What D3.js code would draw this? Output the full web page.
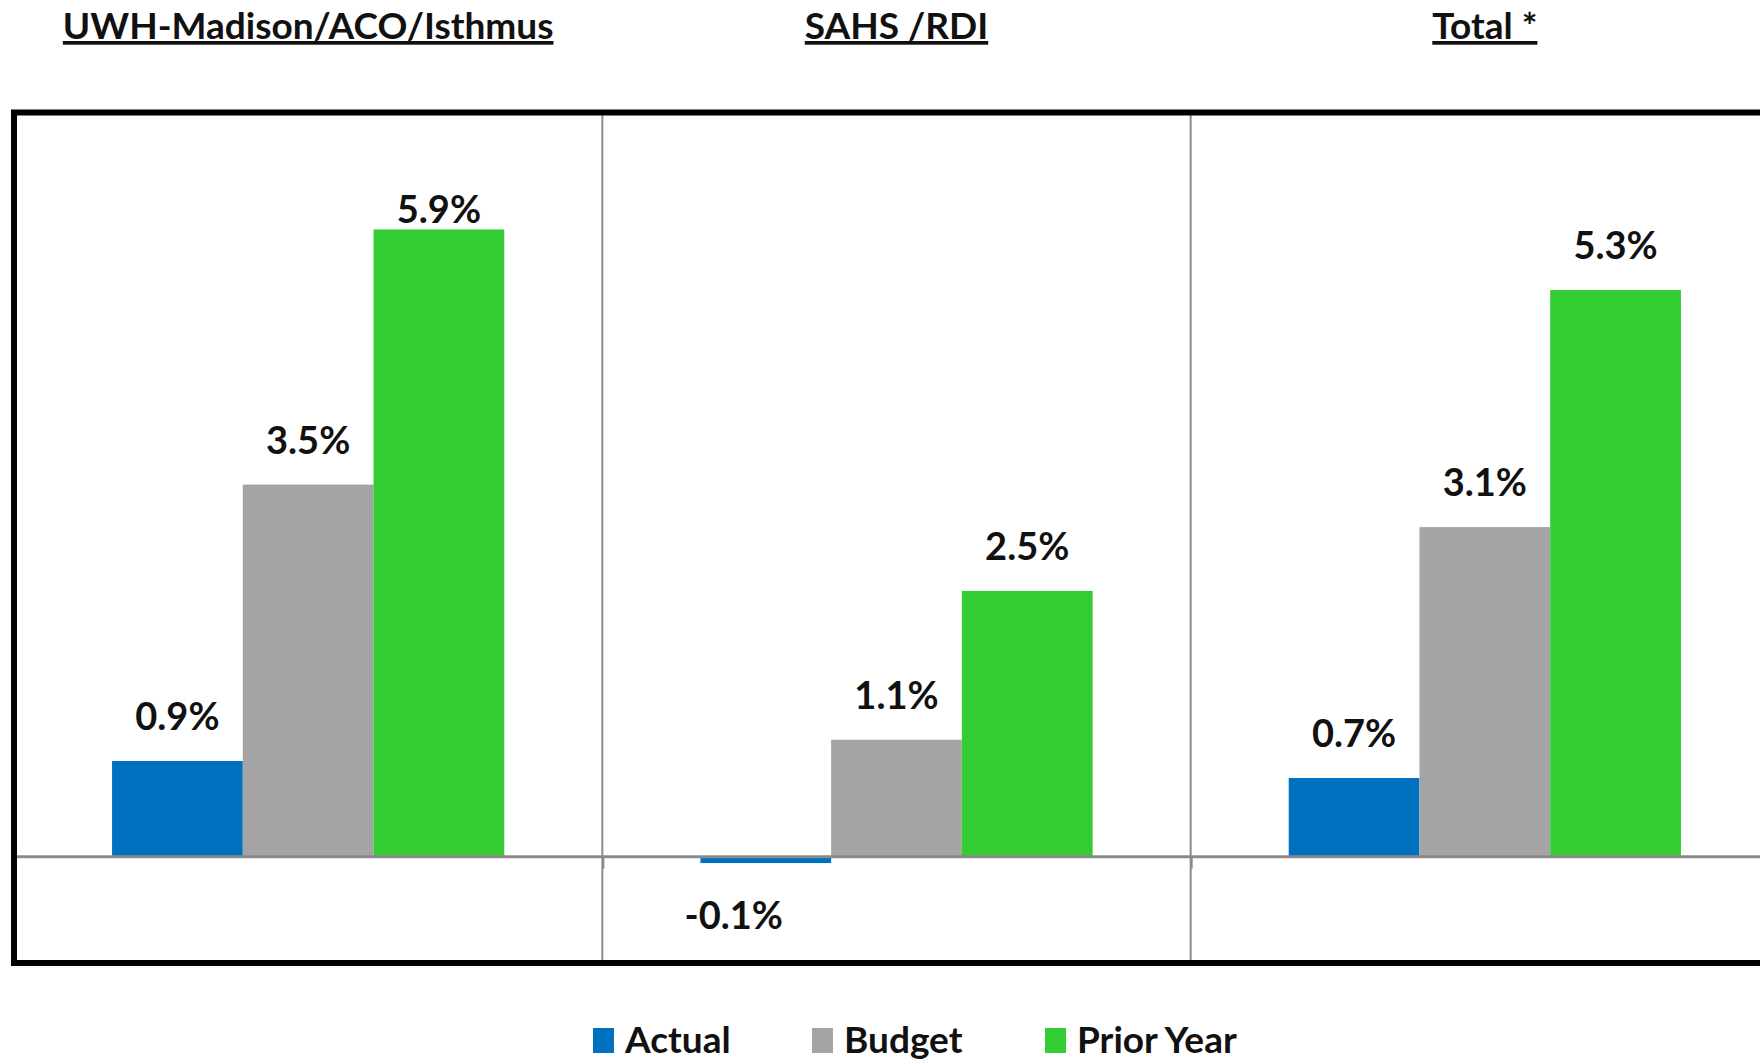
<!DOCTYPE html>
<html>
<head>
<meta charset="utf-8">
<script src="https://cdn.jsdelivr.net/npm/d3@7"></script>
<style>
  body { margin: 0; background: #fff; }
  text { font-family: Lato, "Open Sans", sans-serif; font-weight: bold; fill: #111; }
</style>
</head>
<body>
<script>
// ---------------- data ----------------
var categories = ["UWH-Madison/ACO/Isthmus", "SAHS /RDI", "Total *"];
var seriesNames = ["Actual", "Budget", "Prior Year"];
var actual = [0.9, -0.06, 0.74];
var budget = [3.5, 1.1, 3.1];
var priorYear = [5.9, 2.5, 5.33];
var seriesColors = ["#0070C0", "url(#dots)", "#33CC33"];

var width = 1760, height = 1064;

var svg = d3.select("body").append("svg")
    .attr("width", width).attr("height", height);

// stippled grey like the excel fill
var pat = svg.append("defs").append("pattern")
    .attr("id", "dots").attr("patternUnits", "userSpaceOnUse")
    .attr("width", 4).attr("height", 4);
pat.append("rect").attr("width", 4).attr("height", 4).attr("fill", "#a6a6a6");
pat.append("rect").attr("x", 1).attr("y", 1).attr("width", 1).attr("height", 1).attr("fill", "#959595");
pat.append("rect").attr("x", 3).attr("y", 3).attr("width", 1).attr("height", 1).attr("fill", "#9a9a9a");

var frameLeft = 14, frameRight = 1779, frameTop = 112.5, frameBottom = 963;
var labelTopLimit = 223; // labels don't go above the inner plot area

var x0 = d3.scaleBand()
    .domain(categories)
    .range([frameLeft, frameRight]);

var x1 = d3.scaleBand()
    .domain(seriesNames)
    .range([0, x0.bandwidth()])
    .paddingOuter(0.75)
    .paddingInner(0);

var y = d3.scaleLinear()
    .domain([-1, 7])
    .range([frameBottom, frameTop]);

var rows = categories.map(function(c, i) {
  return [
    {cat: c, s: "Actual", v: actual[i]},
    {cat: c, s: "Budget", v: budget[i]},
    {cat: c, s: "Prior Year", v: priorYear[i]}
  ];
});

var color = d3.scaleOrdinal().domain(seriesNames).range(seriesColors);
var fmt = function(v) { return d3.format(".1f")(v).replace("\u2212", "-") + "%"; };

// panel titles
svg.selectAll(".title")
  .data(categories)
.enter().append("text")
  .attr("class", "title")
  .attr("x", function(d) { return x0(d) + x0.bandwidth() / 2; })
  .attr("y", 39)
  .attr("text-anchor", "middle")
  .style("font-size", "37px")
  .style("text-decoration", "underline")
  .text(function(d) { return d; });

// bars
var groups = svg.selectAll(".grp")
  .data(rows)
.enter().append("g")
  .attr("class", "grp")
  .attr("transform", function(d) { return "translate(" + x0(d[0].cat) + ",0)"; });

groups.selectAll("rect")
  .data(function(d) { return d; })
.enter().append("rect")
  .attr("x", function(d) { return x1(d.s); })
  .attr("width", x1.bandwidth())
  .attr("y", function(d) { return y(Math.max(0, d.v)); })
  .attr("height", function(d) { return Math.abs(y(d.v) - y(0)); })
  .attr("fill", function(d) { return color(d.s); });

groups.selectAll(".lbl")
  .data(function(d) { return d; })
.enter().append("text")
  .attr("class", "lbl")
  .attr("text-anchor", "middle")
  .attr("x", function(d) { return x1(d.s) + x1.bandwidth() / 2 - (d.v < 0 ? 32 : 0); })
  .attr("y", function(d) {
    return d.v < 0 ? y(d.v) + 66 : Math.max(labelTopLimit, y(d.v) - 31);
  })
  .style("font-size", "38px")
  .text(function(d) { return fmt(d.v); });

// zero line + little ticks
svg.append("line")
  .attr("x1", frameLeft).attr("x2", frameRight)
  .attr("y1", y(0)).attr("y2", y(0))
  .attr("stroke", "#8a8a8a").attr("stroke-width", 3);

svg.selectAll(".tick")
  .data(categories)
.enter().append("line")
  .attr("x1", function(d) { return x0(d) + 1; }).attr("x2", function(d) { return x0(d) + 1; })
  .attr("y1", y(0)).attr("y2", y(0) + 12)
  .attr("stroke", "#8a8a8a").attr("stroke-width", 2);

// panel dividers
svg.selectAll(".divider")
  .data(categories.slice(1))
.enter().append("line")
  .attr("class", "divider")
  .attr("x1", function(d) { return x0(d); }).attr("x2", function(d) { return x0(d); })
  .attr("y1", frameTop).attr("y2", frameBottom)
  .attr("stroke", "#8c8c8c").attr("stroke-width", 2);

// outer frame
svg.append("rect")
  .attr("x", frameLeft).attr("y", frameTop)
  .attr("width", frameRight - frameLeft).attr("height", frameBottom - frameTop)
  .attr("fill", "none")
  .attr("stroke", "#000").attr("stroke-width", 6);

// legend
var legendX = [593, 812, 1045];
var legend = svg.selectAll(".leg")
  .data(seriesNames)
.enter().append("g")
  .attr("class", "leg")
  .attr("transform", function(d, i) { return "translate(" + legendX[i] + ",1028)"; });

legend.append("rect")
  .attr("width", 21).attr("height", 25)
  .attr("fill", function(d) { return color(d); });

legend.append("text")
  .attr("x", 32).attr("y", 25)
  .style("font-size", "37px")
  .text(function(d) { return d; });
</script>
</body>
</html>
